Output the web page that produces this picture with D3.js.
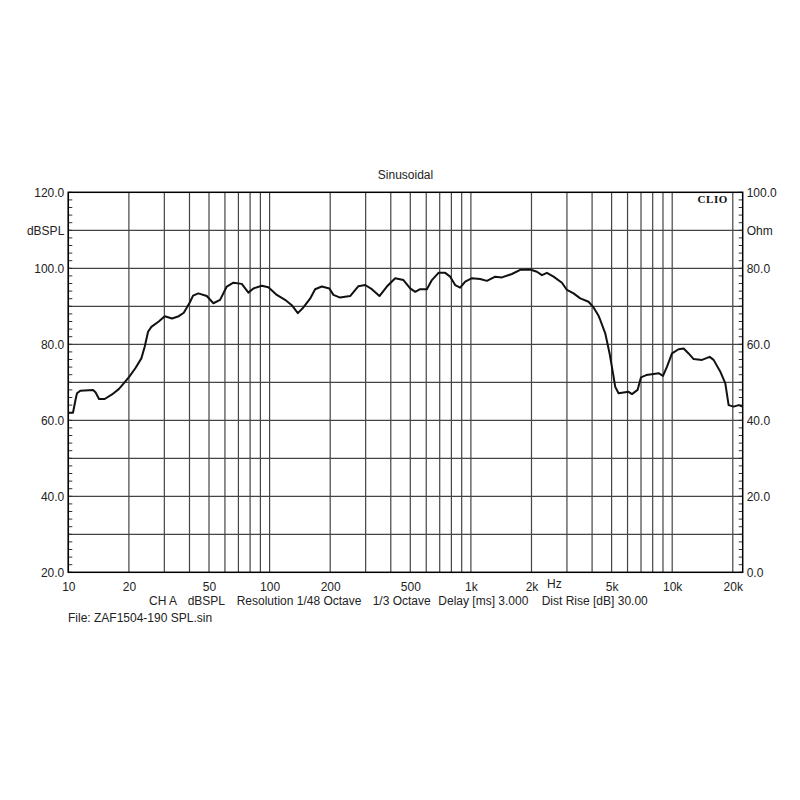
<!DOCTYPE html>
<html>
<head>
<meta charset="utf-8">
<script src="https://cdn.jsdelivr.net/npm/d3@7"></script>
<style>
    body { margin: 0; background: #fff; }
    .label { font-family: "Liberation Sans", Arial, sans-serif; font-size: 12px; fill: #222; }
</style>
</head>
<body>
<div class="chart"></div>
<script>
// frequency response (Hz, dB SPL)
const freq = [10, 10.55, 10.9, 11.05, 11.47, 13.27, 13.65, 14.21, 15.16, 16.49, 17.81, 18.86, 20.1, 21.53,
    23.06, 23.98, 24.9, 25.86, 28.14, 30.14, 32.76, 35.38, 37.47, 40.13, 41.67, 44.27, 48.74, 52.57,
    56.75, 61.28, 66.09, 72.74, 78.46, 83.08, 91.46, 98.63, 108.6, 119.4, 128.9, 138.1, 147.2, 158.9,
    168.3, 181.7, 198.2, 207.5, 224, 251.2, 276.3, 298.4, 322.1, 351.3, 382.4, 420.6, 462.4, 499.4,
    528.8, 559.8, 604.4, 640.1, 690.2, 745.2, 788.9, 835.4, 884.6, 936.9, 1012, 1112, 1201, 1321,
    1426, 1599, 1758, 1971, 2128, 2254, 2386, 2574, 2834, 3000, 3236, 3494, 3842, 4068, 4307, 4391,
    4650, 4886, 5079, 5214, 5415, 5733, 6072, 6313, 6730, 6998, 7434, 8083, 8559, 9001, 9424, 9977,
    10760, 11400, 12060, 12780, 14060, 15350, 16060, 17340, 18360, 19070, 20200, 21380, 22400];
const spl = [62.0, 62.0, 65.8, 67.1, 67.8, 68.0, 67.4, 65.6, 65.6, 66.8, 68.2, 69.7, 71.5, 73.7,
    76.3, 79.4, 83.3, 84.6, 86.0, 87.4, 86.8, 87.4, 88.3, 91.0, 92.8, 93.4, 92.7, 90.8,
    91.7, 95.2, 96.2, 95.9, 93.6, 94.7, 95.4, 95.0, 93.0, 91.7, 90.3, 88.2, 89.7, 92.0,
    94.5, 95.2, 94.7, 93.0, 92.3, 92.7, 95.3, 95.6, 94.5, 92.7, 95.2, 97.4, 96.9, 94.7,
    93.8, 94.5, 94.5, 96.9, 98.8, 98.8, 97.8, 95.6, 94.9, 96.5, 97.4, 97.2, 96.7, 97.8,
    97.6, 98.5, 99.6, 99.7, 99.1, 98.2, 98.8, 97.8, 96.2, 94.3, 93.4, 92.1, 91.2, 89.7, 87.5, 86.4,
    82.9, 77.6, 72.4, 68.8, 67.1, 67.3, 67.5, 66.9, 68.0, 71.3, 71.9, 72.2, 72.4, 71.7, 74.1, 77.6,
    78.7, 78.9, 77.6, 76.1, 75.9, 76.7, 75.9, 72.8, 69.7, 64.0, 63.6, 64.0, 63.6];

const xTicks = [10, 20, 50, 100, 200, 500, 1000, 2000, 5000, 10000, 20000];
const xTickLabels = ["10", "20", "50", "100", "200", "500", "1k", "2k", "5k", "10k", "20k"];
const yTicks = [20, 40, 60, 80, 100, 110, 120];
const ohmTicks = [0, 20, 40, 60, 80, 90, 100];
const infoText = ["CH A", "dBSPL", "Resolution 1/48 Octave", "1/3 Octave", "Delay [ms] 3.000", "Dist Rise [dB] 30.00"];

const w = 800, h = 800;
const plotL = 68.3, plotR = 742.7, plotT = 192.3, plotB = 572.3;

const svg = d3.select('.chart')
    .append('svg')
    .attr('width', w)
    .attr('height', h);

const xScale = d3.scaleLog().domain([10, 22400]).range([plotL, plotR]);
const yScale = d3.scaleLinear().domain([20, 120]).range([plotB, plotT]);
const ohmScale = d3.scaleLinear().domain([0, 100]).range([plotB, plotT]);

// grid lines: every 1..9 per decade, every 10 dB
let vLines = [];
[10, 100, 1000, 10000].forEach(dec => {
    for (let k = 1; k < 10; k++) if (dec * k <= 20000) vLines.push(dec * k);
});
svg.append('g').selectAll('line')
    .data(vLines)
    .enter().append('line')
    .attr('x1', d => xScale(d)).attr('x2', d => xScale(d))
    .attr('y1', plotT).attr('y2', plotB)
    .attr('stroke', '#444').attr('stroke-width', 1.2);

svg.append('g').selectAll('line')
    .data(d3.range(30, 120, 10))
    .enter().append('line')
    .attr('x1', plotL).attr('x2', plotR)
    .attr('y1', d => yScale(d)).attr('y2', d => yScale(d))
    .attr('stroke', '#444').attr('stroke-width', 1.2);

// minor ticks inside the frame
const minor = d3.range(20, 121, 2);
svg.append('g').selectAll('line')
    .data(minor)
    .enter().append('line')
    .attr('x1', plotL).attr('x2', plotL + 4)
    .attr('y1', d => yScale(d)).attr('y2', d => yScale(d))
    .attr('stroke', '#333');
svg.append('g').selectAll('line')
    .data(minor)
    .enter().append('line')
    .attr('x1', plotR - 4).attr('x2', plotR)
    .attr('y1', d => yScale(d)).attr('y2', d => yScale(d))
    .attr('stroke', '#333');

// frame
svg.append('rect')
    .attr('x', plotL).attr('y', plotT)
    .attr('width', plotR - plotL).attr('height', plotB - plotT)
    .attr('fill', 'none').attr('stroke', '#000').attr('stroke-width', 1.5);

// curve
const line = d3.line()
    .x((d, i) => xScale(freq[i]))
    .y(d => yScale(d));

svg.append('path')
    .datum(spl)
    .attr('d', line)
    .attr('fill', 'none')
    .attr('stroke', '#111')
    .attr('stroke-width', 2)
    .attr('stroke-linejoin', 'round');

// axes (labels only)
const xAxis = d3.axisBottom(xScale)
    .tickValues(xTicks)
    .tickFormat((d, i) => xTickLabels[i])
    .tickSize(0).tickPadding(10);
const gx = svg.append('g')
    .attr('transform', `translate(0, ${plotB})`)
    .call(xAxis);
gx.select('.domain').remove();
gx.attr('font-size', null).attr('font-family', null);
gx.selectAll('text').attr('class', 'label');

svg.append('text')
    .attr('class', 'label')
    .attr('x', xScale(2600)).attr('y', 587.5)
    .attr('text-anchor', 'middle')
    .text('Hz');

const yAxis = d3.axisLeft(yScale)
    .tickValues(yTicks)
    .tickFormat(d => d === 110 ? 'dBSPL' : d.toFixed(1))
    .tickSize(0).tickPadding(4);
const gy = svg.append('g')
    .attr('transform', `translate(${plotL}, 0)`)
    .call(yAxis);
gy.select('.domain').remove();
gy.attr('font-size', null).attr('font-family', null);
gy.selectAll('text').attr('class', 'label');

const yAxisR = d3.axisRight(ohmScale)
    .tickValues(ohmTicks)
    .tickFormat(d => d === 90 ? 'Ohm' : d.toFixed(1))
    .tickSize(0).tickPadding(4);
const gr = svg.append('g')
    .attr('transform', `translate(${plotR}, 0)`)
    .call(yAxisR);
gr.select('.domain').remove();
gr.attr('font-size', null).attr('font-family', null);
gr.selectAll('text').attr('class', 'label');

// titles
svg.append('text')
    .attr('class', 'label')
    .attr('x', (plotL + plotR) / 2).attr('y', 179)
    .attr('text-anchor', 'middle')
    .text('Sinusoidal');

svg.append('text')
    .attr('x', 728).attr('y', 203)
    .attr('text-anchor', 'end')
    .style('font-family', '"Liberation Serif", "Times New Roman", serif')
    .style('font-weight', 'bold')
    .style('font-size', '11px')
    .style('letter-spacing', '0.6px')
    .style('fill', '#111')
    .text('CLIO');

// info line
const infoX = [149, 187.7, 236.7, 372.7, 438.3, 541.7];
svg.append('g').selectAll('text')
    .data(infoText)
    .enter().append('text')
    .attr('class', 'label')
    .attr('x', (d, i) => infoX[i]).attr('y', 605)
    .text(d => d);

svg.append('text')
    .attr('class', 'label')
    .attr('x', 68).attr('y', 621.5)
    .text('File: ZAF1504-190 SPL.sin');
</script>
</body>
</html>
